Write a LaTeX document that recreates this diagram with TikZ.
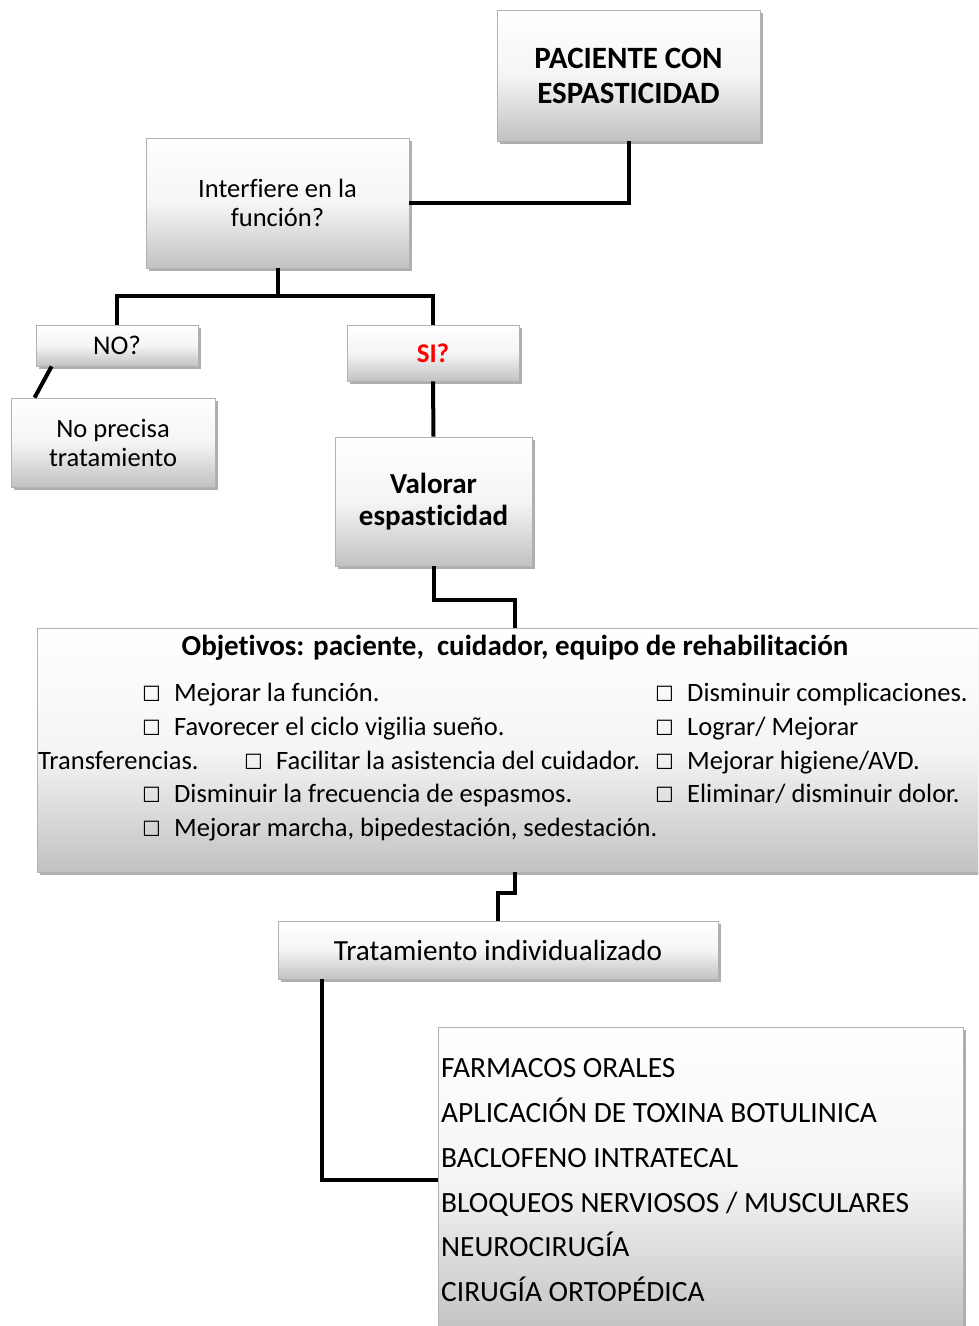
\documentclass[tikz,border=0pt]{standalone}
\usepackage{fontspec}
\setmainfont{Carlito}[RawFeature={-liga;-clig;-calt;-dlig}]
\newfontfamily\symfont{DejaVu Sans}
\usetikzlibrary{shadows,calc}
\newcommand\cbx{\makebox[32pt][l]{\fontsize{21}{21}\symfont ☐}}
\tikzset{
  box/.style={draw=black!30, line width=0.8pt, top color=white, bottom color=black!24, middle color=black!4, inner sep=0pt, align=center,
    drop shadow={shadow xshift=2.5pt, shadow yshift=-2.5pt, opacity=0.45, fill=black!70}},
  conn/.style={line width=4pt, black},
  regtxt/.style={font=\fontsize{26.5}{29}\selectfont},
  item/.style={anchor=base west, inner sep=0pt, font=\fontsize{26.5}{29}\selectfont},
  litem/.style={anchor=base west, inner sep=0pt, font=\fontsize{29.4}{32}\selectfont},
}
\begin{document}
\begin{tikzpicture}[x=1pt,y=-1pt]
\useasboundingbox (0,0) rectangle (978,1326);
\clip (0,0) rectangle (978,1326);
\fill[white] (0,0) rectangle (978,1326);

% boxes
\node[box, minimum width=263pt, minimum height=131pt, font=\fontsize{31}{35}\selectfont\bfseries] (pac) at (628.5,75.5) {PACIENTE CON\\ESPASTICIDAD};
\node[box, minimum width=263pt, minimum height=130pt, regtxt] (inf) at (277.5,203) {Interfiere en la\\función?};
\node[box, minimum width=162pt, minimum height=41pt, font=\fontsize{27}{30}\selectfont] (no) at (117,345.5) {NO?};
\node[box, minimum width=172pt, minimum height=56pt, font=\fontsize{27}{30}\selectfont\bfseries, text=red] (si) at (433,353) {SI?};
\node[box, minimum width=204pt, minimum height=89pt, regtxt] (np) at (113,442.5) {No precisa\\tratamiento};
\node[box, minimum width=197pt, minimum height=129pt, font=\fontsize{29}{32}\selectfont\bfseries] (val) at (433.5,501.5) {Valorar\\espasticidad};
\node[box, minimum width=953pt, minimum height=244pt] (obj) at (513.5,750) {};
\node[box, minimum width=440pt, minimum height=58pt, font=\fontsize{29.2}{32}\selectfont] (trat) at (498,950) {Tratamiento individualizado};
\node[box, minimum width=525pt, minimum height=306pt] (lst) at (700.5,1180) {};

% objectives text
\node[anchor=base, inner sep=0pt, font=\fontsize{29}{32}\selectfont\bfseries] (ot) at (515,655) {Objetivos: paciente,\ \ cuidador, equipo de rehabilitación};
\node[item] (o1) at (142,701) {\cbx Mejorar la función.};
\node[item] (o2) at (142,735) {\cbx Favorecer el ciclo vigilia sueño.};
\node[item] (o3) at (38,769) {Transferencias.};
\node[item] (o4) at (244,769) {\cbx Facilitar la asistencia del cuidador.};
\node[item] (o5) at (142,802) {\cbx Disminuir la frecuencia de espasmos.};
\node[item] (o6) at (142,836) {\cbx Mejorar marcha, bipedestación, sedestación.};
\node[item] (r1) at (655,701) {\cbx Disminuir complicaciones.};
\node[item] (r2) at (655,735) {\cbx Lograr/ Mejorar};
\node[item] (r3) at (655,769) {\cbx Mejorar higiene/AVD.};
\node[item] (r4) at (655,802) {\cbx Eliminar/ disminuir dolor.};

% treatment list
\node[litem] (l1) at (441,1077) {FARMACOS ORALES};
\node[litem] (l2) at (441,1122) {APLICACIÓN DE TOXINA BOTULINICA};
\node[litem] (l3) at (441,1167) {BACLOFENO INTRATECAL};
\node[litem] (l4) at (441,1212) {BLOQUEOS NERVIOSOS / MUSCULARES};
\node[litem] (l5) at (441,1256) {NEUROCIRUGÍA};
\node[litem] (l6) at (441,1301) {CIRUGÍA ORTOPÉDICA};

% connectors
\draw[conn] (pac.south) |- (inf.east);
\coordinate (j1) at ($(inf.south)+(0,28)$);
\draw[conn] (inf.south) -- (j1);
\draw[conn] (j1) -| (no.north);
\draw[conn] (j1) -| (si.north);
\draw[conn] ($(no.south west)+(16,0)$) -- ($(np.north west)+(24,0)$);
\draw[conn] (si.south) -- (val.north);
\draw[conn] (val.south) -- ++(0,34) -| ($(obj.north west)+(478,0)$);
\draw[conn] ($(obj.south west)+(478,0)$) -- ++(0,21) -| (trat.north);
\draw[conn] ($(trat.south west)+(44,0)$) |- (lst.west);
\end{tikzpicture}
\end{document}
